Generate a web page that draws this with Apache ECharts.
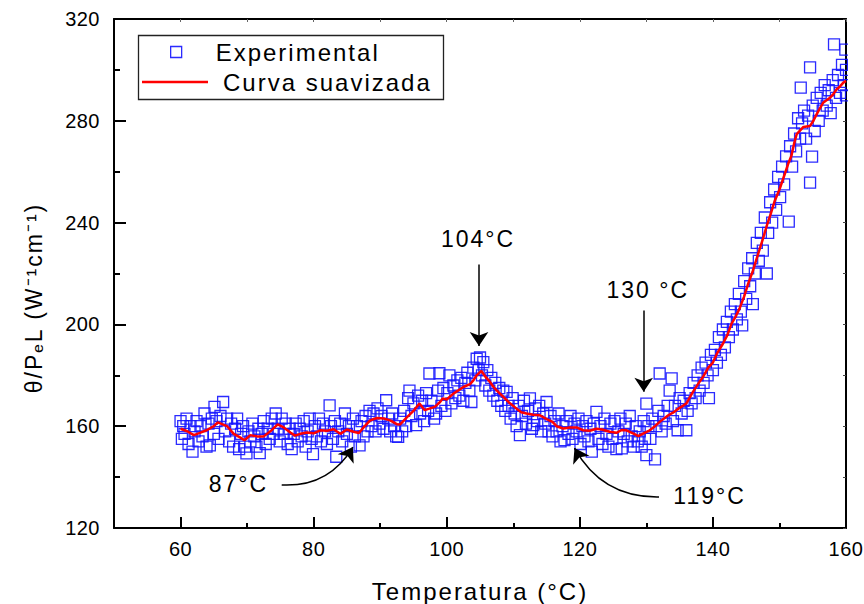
<!DOCTYPE html>
<html>
<head>
<meta charset="utf-8">
<script src="https://cdn.jsdelivr.net/npm/echarts@6/dist/echarts.min.js"></script>
<style>
html, body { margin: 0; padding: 0; background: #fff; overflow: hidden; }
#chart { width: 864px; height: 604px; }
#chart text { letter-spacing: 2px; }
#chart text[style*="20px"] { letter-spacing: 0.5px; }
</style>
</head>
<body>
<div id="chart"></div>
<script>
var FONT = '"Liberation Sans", Arial, sans-serif';

// axis ticks
var xMajorTicks = [60, 80, 100, 120, 140, 160];
var xMinorTicks = [70, 90, 110, 130, 150];
var yMajorTicks = [120, 160, 200, 240, 280, 320];
var yMinorTicks = [140, 180, 220, 260, 300];

// curva suavizada [T, valor]
var smoothLine = [[60,159],[61,158],[62,156.5],[63,157.5],[64,158.5],[65,160],[65.6,161.5],[66.5,160.5],[67,160],[68,157],[69,155.5],[69.6,154.5],[70.5,156.5],[71.5,156],[72.5,156],[73.5,158],[74.6,160.7],[75.5,159.5],[76.5,157.5],[77.2,156.3],[78,157],[79,157.5],[80,157.2],[81,158.4],[82,158.2],[83,158.8],[84,157],[85,158.7],[86,157.8],[86.8,157.3],[87.5,159.5],[88.5,162.3],[89.5,163.2],[90.5,163],[91.5,162.3],[92.5,160.8],[93,160.7],[94,163.5],[95,166],[95.9,168.9],[96.7,166.3],[97.5,167],[98.2,167.6],[99,169.5],[99.4,170.9],[100,170.5],[101,172.8],[102,174.5],[102.5,175.4],[103.5,176.5],[104,178],[104.5,180],[105.2,181.7],[105.8,179.5],[106.5,177.4],[107,175.5],[107.5,174.1],[108.5,171.5],[109.5,169],[110.5,166.9],[111.2,165.5],[112,165],[113,164.5],[114,164.3],[115,162.8],[115.9,161.7],[116.5,160],[117.5,159.1],[118.5,159.5],[119.5,159.5],[120.5,158.4],[121.5,158.2],[122.5,159],[123.3,158.7],[124.5,157.8],[125.5,157.4],[126.3,158.5],[127,158.4],[128,157.2],[128.8,156.1],[129.8,157.5],[130.5,158.4],[131.3,160],[132,161.7],[133.3,164.3],[134,165.3],[134.8,166.9],[135.5,168],[136,168.9],[137,173.5],[138,177.5],[138.5,179.3],[139.3,183],[140,185],[140.6,188.5],[141.5,192.4],[142.2,196],[142.8,200.3],[143.4,203],[144,206.2],[144.7,211],[145.3,216],[146,221],[146.8,227.7],[147.5,233.5],[148.1,238.8],[148.7,243.5],[149.3,248.6],[150,253],[150.8,259.1],[151.3,263],[151.8,266.3],[152.2,271],[152.6,274.8],[153.6,277.6],[154.6,278],[155.1,280],[155.6,282.6],[156.1,285],[156.6,287.2],[157.6,289.1],[158.1,290.5],[158.6,292.4],[159.1,293.5],[159.6,295],[160,295.7]];

// pontos experimentais [T, valor]
var expPoints = [
  [60.0,162],[60.2,155],[60.4,160],[60.6,157],[60.9,163],[61.2,153],[61.5,160],[61.8,150],[62.1,158],[62.4,162],
  [62.7,154],[63.0,160],[63.3,156],[63.6,165],[63.9,152],[64.2,161],[64.4,152.5],[64.7,163],[65.0,157],[65.1,167.6],
  [65.4,162],[65.7,155],[66.0,164],[66.4,169.5],[66.7,158],[67.0,163],[67.3,154],[67.6,161],[67.9,152],[68.2,159],
  [68.5,163],[68.8,151],[69.1,157],[69.4,160],[69.7,152],[69.9,149.3],[70.2,158],[70.5,154],[70.8,161],[71.1,156],
  [71.4,152],[71.7,159],[71.9,149.4],[72.2,157],[72.5,162],[72.8,153],[73.1,159],[73.4,155],[73.7,163],[74.0,157],
  [74.3,165],[74.6,159],[74.9,154],[75.2,163],[75.5,157],[75.8,161],[76.1,153],[76.4,159],[76.7,151],[77.0,157],
  [77.3,161],[77.6,154],[77.9,159],[78.2,156],[78.5,162],[78.8,152],[79.1,158],[79.4,163],[79.7,155],[79.9,149],
  [80.2,160],[80.5,156],[80.8,163],[81.1,154],[81.4,161],[81.7,158],[82.0,153],[82.4,168.2],[82.6,160],[82.9,155],
  [83.2,162],[83.4,148],[83.7,158],[84.0,161],[84.3,154],[84.7,165],[85.0,157],[85.3,160],[85.6,152],[85.9,163],
  [86.2,156],[86.5,160],[86.9,152.5],[87.2,162],[87.5,156],[87.8,164],[88.1,158],[88.4,166],[88.7,160],[89.0,165],
  [89.3,158],[89.6,167],[89.9,161],[90.2,164],[90.5,159],[90.9,170.2],[91.2,163],[91.5,158],[91.8,165],[92.1,160],
  [92.4,156],[92.7,155.8],[93.0,163],[93.3,158],[93.6,166],[93.9,160],[94.2,171],[94.4,174],[94.7,164],[95.0,169],
  [95.4,160.4],[95.7,172],[96.0,165],[96.3,170],[96.6,162],[96.9,173],[97.2,166],[97.4,180.7],[97.7,170],[98.1,163],
  [98.4,165],[98.7,174],[98.9,180.8],[99.2,168],[99.5,175],[99.8,166],[100.1,173],[100.4,180],[100.7,169],[101.0,176],
  [101.3,171],[101.6,178],[101.9,172],[102.2,179],[102.5,170],[102.8,177],[103.1,181],[103.4,174],[103.7,169.5],[104.0,183],
  [104.3,178],[104.5,186.5],[104.8,182],[105.0,187],[105.3,180],[105.5,185.2],[105.8,176],[106.1,182],[106.4,174],[106.7,179],
  [107.0,172],[107.3,177],[107.6,170],[107.9,175],[108.2,168],[108.5,174],[108.8,166],[109.0,173.5],[109.3,168],[109.6,163],
  [109.9,171],[110.2,165],[110.5,160],[110.8,168],[111.0,156.5],[111.3,164],[111.6,170],[111.9,161],[112.2,166],[112.5,170.9],
  [112.8,159],[113.0,160.4],[113.3,167],[113.6,162],[113.9,168],[114.2,158],[114.5,165],[114.8,161],[115.0,169.5],[115.3,158],
  [115.6,164],[115.9,156],[116.2,162],[116.5,158],[116.8,165],[117.1,154],[117.4,160],[117.7,154.5],[118.0,162],[118.3,157],
  [118.6,164],[118.9,155],[119.2,161],[119.5,158],[119.8,163],[120.1,153],[120.4,160],[120.7,156],[121.0,162],[121.3,154],
  [121.6,159],[121.8,150],[122.1,161],[122.5,165.6],[122.8,155],[123.1,160],[123.4,153],[123.7,163],[124.0,157],[124.3,152],
  [124.6,161],[124.9,155],[125.2,162],[125.5,151],[125.8,158],[126.1,163],[126.3,151.3],[126.6,157],[126.9,161],[127.2,154],
  [127.5,164],[127.8,156],[128.1,152],[128.4,160],[128.7,154],[129.0,158],[129.3,152],[129.6,162],[129.8,155],[130.0,168.9],
  [130.0,148.6],[130.3,160],[130.6,155],[130.9,163],[131.3,147],[131.5,160],[131.8,166],[132.0,180.7],[132.3,158],[132.6,164],
  [132.9,161],[133.2,168],[133.5,174],[133.8,178.8],[134.0,162],[134.3,168],[134.7,158.4],[135.0,171],[135.3,165],[135.6,170],
  [136.0,158.4],[136.2,166],[136.5,173],[136.8,169],[137.1,177],[137.4,171],[137.7,180],[138.0,174],[138.3,183],[138.6,177],
  [138.9,185],[139.2,180],[139.4,171],[139.7,188],[140.0,182],[140.3,190],[140.6,185],[140.9,195],[141.2,188],[141.5,198],
  [141.8,191],[142.1,201],[142.4,195],[142.7,205],[143.0,198],[143.3,208],[143.6,202],[143.9,212],[144.2,205],[144.4,199.6],
  [144.7,217],[145.0,210],[145.3,222],[145.6,215],[145.9,226],[146.0,208],[146.3,220],[146.6,232],[146.9,225],[147.2,236],
  [147.5,229],[147.8,242],[148.1,220],[148.3,236],[148.6,248],[148.9,240],[149.2,253],[149.5,245],[149.8,258],[150.1,250],
  [150.4,262],[150.7,255],[151.0,266],[151.4,240.4],[151.6,270],[151.9,262],[152.2,275],[152.5,268],[152.8,281],[153.1,273],
  [153.2,293],[153.4,279],[153.7,284],[154.0,273],[154.3,282],[154.6,301],[154.6,255.7],[154.9,265.9],[155.0,286],[155.3,276],
  [155.6,289],[155.9,280],[156.2,291],[156.5,284],[156.8,294],[157.1,286],[157.4,292],[157.7,283],[158.0,296],[158.2,310],
  [158.5,289],[158.8,298],[159.1,291],[159.4,302],[159.7,294],[159.9,308],[160.0,290],[160.0,300]
];

// anotações: texto, posição do texto, seta (início -> ponta), curvatura
var annotations = [
  { text: '104°C', at: [104.7, 233.5], from: [104.85, 223.5], to: [104.85, 191.5], curve: 0 },
  { text: '130 °C', at: [130.2, 213.5], from: [129.6, 205.5], to: [129.6, 173.5], curve: 0 },
  { text: '87°C', at: [68.7, 137.2], from: [75.2, 136.9], to: [85.9, 151.8], curve: -0.3 },
  { text: '119°C', at: [139.5, 132.5], from: [131.9, 132.2], to: [119.2, 151.4], curve: 0.3 }
];

var chart = echarts.init(document.getElementById('chart'), null, { renderer: 'svg' });

var blue = '#1414ff';
var tickFont = { fontSize: 20, color: '#000', fontFamily: FONT };

chart.setOption({
  animation: false,
  grid: { left: 114, right: 18, top: 19, bottom: 76, outerBoundsMode: 'none' },
  graphic: [
    {
      // squares past the right frame are cut off in the original
      type: 'rect', left: 848, top: 0, z: 100,
      shape: { width: 16, height: 526 },
      style: { fill: '#fff' }
    },
    {
      type: 'rect', left: 136, top: 33, z: 10,
      shape: { width: 305, height: 64 },
      style: { fill: 'none', stroke: '#222', lineWidth: 1.3 }
    },
    {
      type: 'text', x: 34, y: 298, rotation: Math.PI / 2, z: 10,
      style: {
        text: 'θ/PₑL (W⁻¹cm⁻¹)', fill: '#000', font: '23px ' + FONT,
        textAlign: 'center', textVerticalAlign: 'middle'
      }
    }
  ],
  legend: [
    {
      data: ['Experimental'], left: 170, top: 40, padding: 0, selectedMode: false,
      itemWidth: 11, itemHeight: 11, icon: 'path://M0,0H10V10H0Z',
      itemStyle: { color: 'transparent', borderColor: blue, borderWidth: 1.3 },
      textStyle: { fontSize: 24, color: '#000', fontFamily: FONT, padding: [0, 0, 0, 29] }
    },
    {
      data: ['Curva suavizada'], left: 142, top: 70, padding: 0, selectedMode: false,
      itemWidth: 66, itemHeight: 2.5, icon: 'rect',
      itemStyle: { color: '#ff0000', borderWidth: 0 },
      textStyle: { fontSize: 24, color: '#000', fontFamily: FONT, padding: [0, 0, 0, 10] }
    }
  ],
  xAxis: [
    {
      type: 'value', min: 50, max: 160, position: 'bottom',
      name: 'Temperatura (°C)', nameLocation: 'middle', nameGap: 51,
      nameTextStyle: { fontSize: 24, color: '#000', fontFamily: FONT },
      axisLine: { onZero: false, lineStyle: { color: '#000', width: 2 } },
      axisTick: { inside: true, length: 11, customValues: xMajorTicks, lineStyle: { color: '#000', width: 2 } },
      axisLabel: Object.assign({ margin: 11, customValues: xMajorTicks }, tickFont),
      splitLine: { show: false }
    },
    {
      type: 'value', min: 50, max: 160, position: 'bottom',
      axisLine: { show: false },
      axisTick: { inside: true, length: 5, customValues: xMinorTicks, lineStyle: { color: '#000', width: 2 } },
      axisLabel: { show: false }, splitLine: { show: false }
    },
    {
      type: 'value', min: 50, max: 160, position: 'top',
      axisLine: { onZero: false, lineStyle: { color: '#000', width: 2 } },
      axisTick: { inside: true, length: 3, customValues: xMajorTicks.concat(xMinorTicks), lineStyle: { color: '#666', width: 1 } },
      axisLabel: { show: false }, splitLine: { show: false }
    }
  ],
  yAxis: [
    {
      type: 'value', min: 120, max: 320, position: 'left',
      axisLine: { show: true, onZero: false, lineStyle: { color: '#000', width: 2 } },
      axisTick: { inside: true, length: 12, customValues: yMajorTicks, lineStyle: { color: '#000', width: 2 } },
      axisLabel: Object.assign({ margin: 14, customValues: yMajorTicks }, tickFont),
      splitLine: { show: false }
    },
    {
      type: 'value', min: 120, max: 320, position: 'left',
      axisLine: { show: false },
      axisTick: { inside: true, length: 6, customValues: yMinorTicks, lineStyle: { color: '#000', width: 2 } },
      axisLabel: { show: false }, splitLine: { show: false }
    },
    {
      type: 'value', min: 120, max: 320, position: 'right',
      axisLine: { show: true, onZero: false, lineStyle: { color: '#000', width: 2 } },
      axisTick: { inside: true, length: 3, customValues: yMajorTicks.concat(yMinorTicks), lineStyle: { color: '#444', width: 1 } },
      axisLabel: { show: false }, splitLine: { show: false }
    }
  ],
  series: [
    {
      name: 'Experimental', type: 'scatter', data: expPoints,
      symbol: 'rect', symbolSize: 11,
      itemStyle: { color: 'transparent', borderColor: blue, borderWidth: 1.3, opacity: 0.9 },
      z: 2
    },
    {
      name: 'Curva suavizada', type: 'line', data: smoothLine,
      showSymbol: false, symbol: 'none',
      lineStyle: { color: '#ff0000', width: 2.5 },
      itemStyle: { color: '#ff0000' },
      z: 3,
      markPoint: {
        silent: true, animation: false,
        symbol: 'rect', symbolSize: 1,
        itemStyle: { color: 'transparent' },
        label: {
          show: true, position: 'inside', formatter: '{b}',
          fontSize: 23, color: '#000', fontFamily: FONT
        },
        data: annotations.map(function (a) {
          return { name: a.text, coord: a.at };
        })
      }
    },
    {
      name: 'setas', type: 'lines', coordinateSystem: 'cartesian2d',
      silent: true, z: 4,
      symbol: ['none', 'arrow'], symbolSize: [9, 14],
      lineStyle: { color: '#000', width: 1.5, opacity: 1 },
      data: annotations.map(function (a) {
        return { coords: [a.from, a.to], lineStyle: { curveness: a.curve } };
      })
    }
  ]
});
</script>
</body>
</html>
